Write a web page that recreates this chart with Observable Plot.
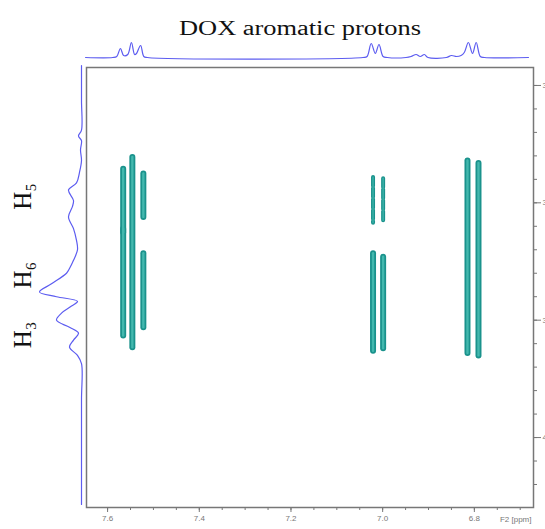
<!DOCTYPE html>
<html>
<head>
<meta charset="utf-8">
<script src="https://cdn.jsdelivr.net/npm/d3@7"></script>
<script src="https://cdn.jsdelivr.net/npm/@observablehq/plot@0.6"></script>
<style>
  html, body { margin: 0; padding: 0; background: white; }
  #wrap { position: relative; width: 545px; height: 529px; overflow: hidden; }
  #wrap > svg, #wrap > div { position: absolute; left: 0; top: 0; }
</style>
</head>
<body>
<div id="wrap"></div>
<script>
// ---------- data ----------
const titleText = "DOX aromatic protons";
const f2Label = "F2 [ppm]";
const f2Domain = [7.646, 6.671];
const f1Domain = [3.6847, 4.0596];
const f2MajorTicks = [7.6, 7.4, 7.2, 7.0, 6.8];
const f2MinorTicks = [7.6, 7.55, 7.5, 7.45, 7.4, 7.35, 7.3, 7.25, 7.2, 7.15, 7.1, 7.05, 7.0, 6.95, 6.9, 6.85, 6.8, 6.75, 6.7];
const f1MajorTicks = [3.7, 3.8, 3.9, 4.0];
const f1MinorTicks = [3.7, 3.72, 3.74, 3.76, 3.78, 3.8, 3.82, 3.84, 3.86, 3.88, 3.9, 3.92, 3.94, 3.96, 3.98, 4.0, 4.02, 4.04];

// F2 (horizontal) projection: ppm, intensity
const topPpm = [7.648, 7.589, 7.580, 7.572, 7.565, 7.556, 7.548, 7.541, 7.537, 7.528, 7.521, 7.513,
  7.043, 7.034, 7.025, 7.016, 7.008, 6.999, 6.990,
  6.949, 6.938, 6.927, 6.918, 6.909, 6.901,
  6.861, 6.850, 6.839, 6.829, 6.822, 6.813, 6.804, 6.796, 6.787, 6.778, 6.682];
const topInt = [0, 0, 1, 9, 2, 3, 15, 3, 4, 12, 1, 0,
  0, 1, 14, 4, 13, 1, 0,
  0, 1, 3, 1, 3, 0,
  0, 2, 1, 2, 5, 15, 4, 15, 1, 0, 0];

// F1 (vertical) projection: ppm, intensity
const leftPpm = [3.683, 3.713, 3.738, 3.743, 3.747, 3.755, 3.764, 3.774, 3.783, 3.789, 3.798, 3.803, 3.812,
  3.822, 3.832, 3.840, 3.849, 3.856, 3.860, 3.869, 3.876, 3.880, 3.884, 3.888, 3.894, 3.900, 3.906,
  3.911, 3.917, 3.923, 3.930, 3.937, 3.968, 4.057];
const leftInt = [0, 0, 0, 3, 0, 1, 0, 2, 5, 13, 8, 9, 13,
  8, 5, 4, 8, 12, 15, 30, 42, 25, 4, 10, 20, 25, 12,
  3, 8, 12, 4, 0, 0, 0];

// proton assignments on F1
const protonLabels = ["H\u2085", "H\u2086", "H\u2083"];
const protonF1 = [3.806, 3.873, 3.924];

// cross peaks: F2 position, F1 start, F1 end
const strongF2 = [7.566, 7.566, 7.546, 7.522, 7.522, 7.021, 6.999, 6.815, 6.791];
const strongF1a = [3.771, 3.822, 3.761, 3.775, 3.843, 3.843, 3.846, 3.764, 3.766];
const strongF1b = [3.825, 3.913, 3.923, 3.812, 3.906, 3.926, 3.924, 3.928, 3.930];
const weakF2 = [7.021, 6.999];
const weakF1a = [3.778, 3.779];
const weakF1b = [3.817, 3.815];

// ---------- build ----------
const strong = strongF2.map((f2, i) => ({f2, a: strongF1a[i], b: strongF1b[i]}));
const weak = weakF2.map((f2, i) => ({f2, a: weakF1a[i], b: weakF1b[i]}));
const topTrace = topPpm.map((p, i) => ({p, v: topInt[i]}));
const leftTrace = leftPpm.map((p, i) => ({p, v: leftInt[i]}));
const labels = protonLabels.map((t, i) => ({t, f1: protonF1[i]}));

const teal = "#1a928c", tealIn = "#43b8ae", blue = "#5c5cf0", axisGray = "#777";
const sans = "Liberation Sans, Arial, sans-serif";
const serif = "Liberation Serif, Times New Roman, DejaVu Serif, serif";

const mainPlot = Plot.plot({
  width: 545, height: 529,
  marginTop: 67, marginBottom: 22, marginLeft: 86, marginRight: 12,
  style: {background: "transparent", fontFamily: sans},
  x: {domain: f2Domain, axis: null},
  y: {domain: f1Domain, reverse: true, axis: null},
  marks: [
    Plot.link(strong, {x1: "f2", x2: "f2", y1: "a", y2: "b", stroke: teal, strokeWidth: 6, strokeLinecap: "round"}),
    Plot.link(strong, {x1: "f2", x2: "f2", y1: "a", y2: "b", stroke: tealIn, strokeWidth: 2.4, strokeLinecap: "round"}),
    Plot.link(weak, {x1: "f2", x2: "f2", y1: "a", y2: "b", stroke: teal, strokeWidth: 4, strokeLinecap: "round", strokeDasharray: "9,2"}),
    Plot.link(weak, {x1: "f2", x2: "f2", y1: "a", y2: "b", stroke: tealIn, strokeWidth: 1.2, strokeLinecap: "round"}),
    Plot.frame({stroke: axisGray, strokeWidth: 1.5}),
    Plot.axisX({anchor: "bottom", ticks: f2MinorTicks, tickSize: 3, tickFormat: () => "", label: null, stroke: axisGray}),
    Plot.axisX({anchor: "bottom", ticks: f2MajorTicks, tickSize: 5, tickPadding: 3, tickFormat: d => d.toFixed(1), label: null, fontSize: 8, fill: axisGray, stroke: axisGray}),
    Plot.axisY({anchor: "right", ticks: f1MinorTicks, tickSize: 3, tickFormat: () => "", label: null, stroke: axisGray}),
    Plot.axisY({anchor: "right", ticks: f1MajorTicks, tickSize: 7, tickPadding: 2, tickFormat: d => d.toFixed(1), label: null, fontSize: 8, fill: axisGray, stroke: axisGray}),
    Plot.text([f2Label], {frameAnchor: "bottom-right", dy: 14, dx: -2, textAnchor: "end", fontSize: 8, fill: axisGray})
  ]
});

const topPlot = Plot.plot({
  width: 545, height: 62,
  marginTop: 37, marginBottom: 5, marginLeft: 86, marginRight: 12,
  style: {background: "transparent"},
  x: {domain: f2Domain, axis: null},
  y: {domain: [0, 20], axis: null},
  marks: [
    Plot.line(topTrace, {x: "p", y: "v", stroke: blue, strokeWidth: 1.2, curve: "catmull-rom"})
  ]
});

const leftPlot = Plot.plot({
  width: 86, height: 529,
  marginTop: 67, marginBottom: 22, marginLeft: 30, marginRight: 5,
  style: {background: "transparent", overflow: "visible"},
  x: {domain: [0, 51], reverse: true, axis: null},
  y: {domain: f1Domain, reverse: true, axis: null},
  marks: [
    Plot.line(leftTrace, {x: "v", y: "p", stroke: blue, strokeWidth: 1.2, curve: "catmull-rom"}),
    Plot.text(labels, {y: "f1", text: "t", frameAnchor: "left", dx: -8, rotate: -90, fontSize: 25, fontFamily: serif, fill: "#111"})
  ]
});

const wrap = document.getElementById("wrap");
wrap.appendChild(mainPlot);
wrap.appendChild(topPlot);
wrap.appendChild(leftPlot);

// title
const ns = "http://www.w3.org/2000/svg";
const tsvg = document.createElementNS(ns, "svg");
tsvg.setAttribute("width", 545); tsvg.setAttribute("height", 45);
const tt = document.createElementNS(ns, "text");
tt.setAttribute("x", 300); tt.setAttribute("y", 35);
tt.setAttribute("text-anchor", "middle");
tt.setAttribute("font-family", serif);
tt.setAttribute("font-size", 20);
tt.setAttribute("textLength", 242);
tt.setAttribute("lengthAdjust", "spacingAndGlyphs");
tt.setAttribute("fill", "#111");
tt.textContent = titleText;
tsvg.appendChild(tt);
wrap.appendChild(tsvg);
</script>
</body>
</html>
